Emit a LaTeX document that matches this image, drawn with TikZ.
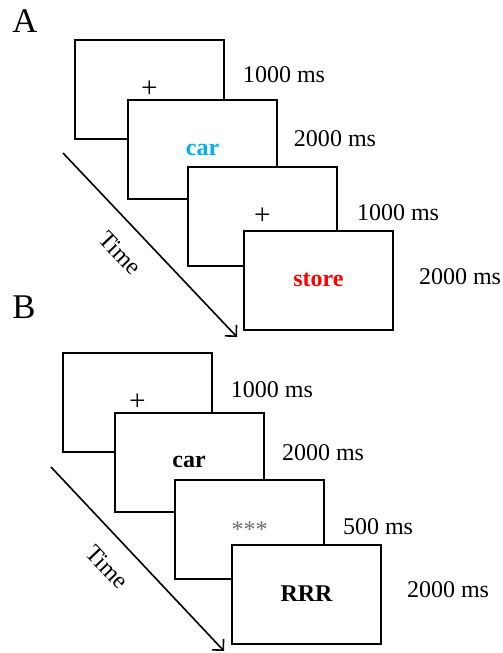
\documentclass[tikz,border=0pt]{standalone}
\usepackage{fontspec}
\setmainfont{Liberation Serif}
\usetikzlibrary{arrows.meta}
\definecolor{wordblue}{RGB}{0,176,240}
\definecolor{wordred}{RGB}{255,0,0}
\definecolor{maskgray}{RGB}{110,110,110}
\tikzset{
  screen/.style={draw=black, line width=1.5pt, fill=white, minimum width=111.75pt, minimum height=74.25pt, inner sep=0pt, outer sep=0pt, font=\fontsize{18}{21}\selectfont},
  dur/.style={inner sep=0pt, font=\fontsize{18}{21}\selectfont},
  panel/.style={inner sep=0pt, font=\fontsize{26}{30}\selectfont},
  timearrow/.style={line width=1.2pt, -{Straight Barb[length=6pt,width=12pt,line width=1.2pt]}},
  timelabel/.style={inner sep=0pt, rotate=-46.6, font=\fontsize{18}{21}\selectfont}
}
\newcommand{\fixplus}{{\fontsize{22}{22}\selectfont +}}
\begin{document}
\begin{tikzpicture}[x=0.75pt,y=-0.75pt]
\useasboundingbox (0,0) rectangle (503,653);
% Panel A
\node[panel] (labA) at (25,21) {A};
\node[screen] (a1) at (149.5,89) {\fixplus};
\node[screen] (a2) at (202.5,149.5) {\textcolor{wordblue}{\bfseries car}};
\node[screen] (a3) at (262.5,216) {\fixplus};
\node[screen] (a4) at (318.5,280) {\textcolor{wordred}{\bfseries store}};
\node[dur] (da1) at (284,75) {1000 ms};
\node[dur] (da2) at (335,139) {2000 ms};
\node[dur] (da3) at (398,213) {1000 ms};
\node[dur] (da4) at (460,277) {2000 ms};
\coordinate (ta0) at (63,153);
\coordinate (ta1) at (237,337);
\draw[timearrow] (ta0) -- (ta1);
\node[timelabel] (timeA) at (120,253) {Time};
% Panel B
\node[panel] (labB) at (24,307) {B};
\node[screen] (b1) at (137.5,402) {\fixplus};
\node[screen] (b2) at (189,462) {\bfseries car};
\node[screen] (b3) at (249.5,529.5) {\textcolor{maskgray}{***}};
\node[screen] (b4) at (306.5,594) {\bfseries RRR};
\node[dur] (db1) at (272,390) {1000 ms};
\node[dur] (db2) at (323,453) {2000 ms};
\node[dur] (db3) at (378,527) {500 ms};
\node[dur] (db4) at (448,590) {2000 ms};
\coordinate (tb0) at (51,467);
\coordinate (tb1) at (224,651);
\draw[timearrow] (tb0) -- (tb1);
\node[timelabel] (timeB) at (107,567) {Time};
\end{tikzpicture}
\end{document}
